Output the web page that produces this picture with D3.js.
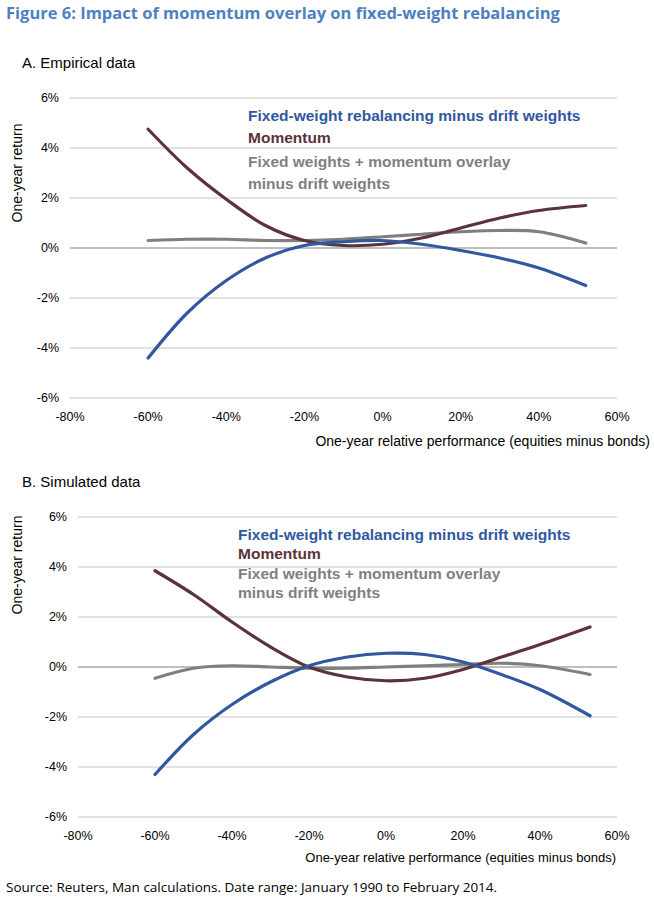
<!DOCTYPE html>
<html><head><meta charset="utf-8">
<script src="https://cdn.jsdelivr.net/npm/d3@7"></script>
<style>body{margin:0;background:#fff} svg text{font-family:'Liberation Sans',Arial,sans-serif} svg text.os{font-family:'Open Sans',sans-serif}</style></head>
<body><svg id="c" width="654" height="908"></svg>
<script>
const xVals=[-60,-50,-40,-30,-20,-10,0,10,20,30,40,52];
const xValsB=[-60,-50,-40,-30,-20,-10,0,10,20,30,40,53];
const aBlue=[-4.4,-2.6,-1.3,-0.4,0.1,0.25,0.3,0.15,-0.1,-0.4,-0.8,-1.5];
const aMom=[4.75,3.2,1.95,0.9,0.3,0.1,0.15,0.4,0.8,1.2,1.5,1.7];
const aGray=[0.3,0.35,0.35,0.3,0.3,0.35,0.45,0.55,0.65,0.7,0.65,0.2];
const bBlue=[-4.3,-2.7,-1.5,-0.6,0.05,0.4,0.55,0.5,0.2,-0.3,-0.9,-1.95];
const bMom=[3.85,2.9,1.8,0.8,0,-0.4,-0.55,-0.45,-0.1,0.4,0.9,1.6];
const bGray=[-0.45,-0.05,0.05,0.0,-0.05,-0.05,0.0,0.05,0.1,0.15,0.05,-0.3];
const xTicks=[-80,-60,-40,-20,0,20,40,60];
const yTicks=[-6,-4,-2,0,2,4,6];
const legend=["Fixed-weight rebalancing minus drift weights","Momentum","Fixed weights + momentum overlay","minus drift weights"];
const colors={blue:"#2f58a0",mom:"#5b3338",gray:"#7f7f7f"};
const svg=d3.select("#c");
svg.append("text").attr("class","os").attr("x",6).attr("y",19).attr("font-weight","bold").attr("font-size",16.5).attr("fill","#4f7fbf").text("Figure 6: Impact of momentum overlay on fixed-weight rebalancing");
svg.append("text").attr("class","os").attr("x",6).attr("y",892).attr("font-size",13.5).attr("fill","#000").text("Source: Reuters, Man calculations. Date range: January 1990 to February 2014.");
function panel(o){
  const x=d3.scaleLinear().domain([-80,60]).range([o.x0,o.x1]);
  const y=d3.scaleLinear().domain([-6,6]).range([o.yb,o.yt]);
  svg.append("text").attr("x",22).attr("y",o.yt-30).attr("font-size",15).text(o.title);
  const g=svg.append("g");
  g.selectAll(".gl").data(yTicks).join("line").attr("x1",o.x0).attr("x2",o.x1).attr("y1",d=>y(d)).attr("y2",d=>y(d)).attr("stroke",d=>d===0?"#bfbfbf":"#d9d9d9").attr("stroke-width",d=>d===0?2:1.3);
  g.selectAll(".yl").data(yTicks).join("text").attr("x",o.x0-11).attr("y",d=>y(d)+4).attr("text-anchor","end").attr("font-size",12.5).text(d=>d+"%");
  g.selectAll(".xl").data(xTicks).join("text").attr("x",d=>x(d)).attr("y",o.yb+23).attr("text-anchor","middle").attr("font-size",12.5).text(d=>d+"%");
  svg.append("text").attr("transform",`translate(22,${o.ytc}) rotate(-90)`).attr("text-anchor","middle").attr("font-size",14).text("One-year return");
  svg.append("text").attr("x",o.xtr).attr("y",o.xty).attr("text-anchor","end").attr("font-size",o.xtf).text("One-year relative performance (equities minus bonds)");
  const line=d3.line().x(d=>x(d[0])).y(d=>y(d[1])).curve(d3.curveCatmullRom);
  [[o.gray,colors.gray],[o.mom,colors.mom],[o.blue,colors.blue]].forEach(([v,c])=>{
    g.append("path").attr("d",line(o.xs.map((d,i)=>[d,v[i]]))).attr("fill","none").attr("stroke",c).attr("stroke-width",3.2).attr("stroke-linecap","round");
  });
  const lc=[colors.blue,colors.mom,colors.gray,colors.gray];
  legend.forEach((t,i)=>svg.append("text").attr("x",o.lx).attr("y",o.ly[i]).attr("font-weight","bold").attr("font-size",15.5).attr("fill",lc[i]).text(t));
}
panel({title:"A. Empirical data",x0:70,x1:617,yt:98,yb:398,ytc:173,xtr:650,xty:446,xtf:14,xs:xVals,blue:aBlue,mom:aMom,gray:aGray,lx:248,ly:[121,143,167,189]});
panel({title:"B. Simulated data",x0:78,x1:617,yt:517,yb:817,ytc:565,xtr:616,xty:862,xtf:13,xs:xValsB,blue:bBlue,mom:bMom,gray:bGray,lx:238,ly:[540,559,579,598]});
</script></body></html>
